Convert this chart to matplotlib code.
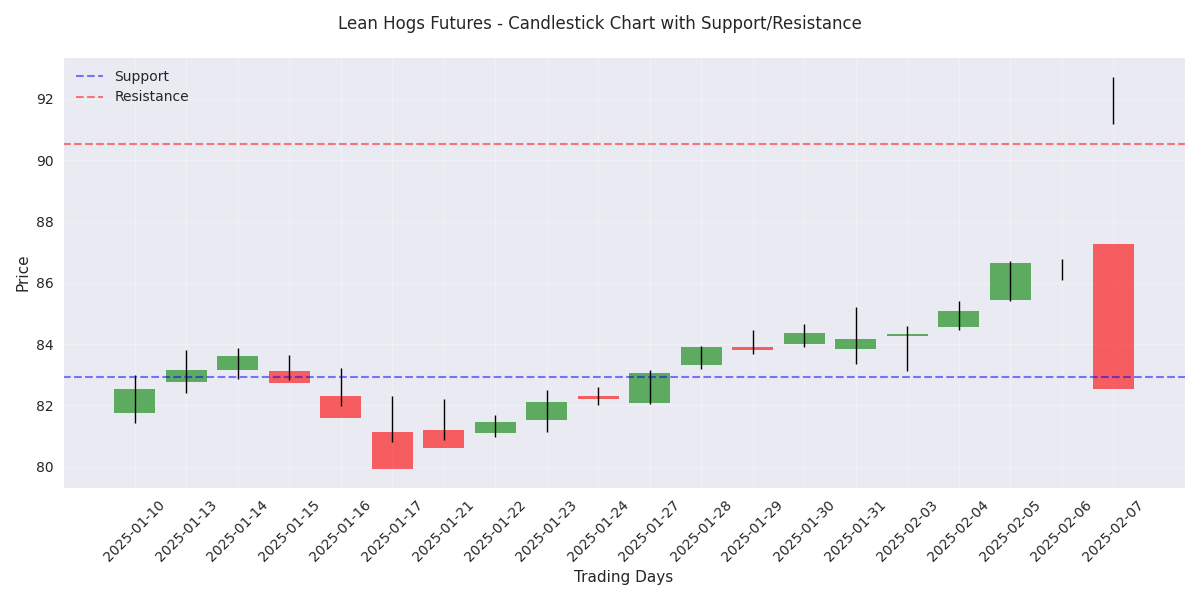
import matplotlib
matplotlib.use('Agg')
import matplotlib.pyplot as plt
import seaborn as sns
import numpy as np

# daily OHLC
dates = ['2025-01-10', '2025-01-13', '2025-01-14', '2025-01-15', '2025-01-16',
         '2025-01-17', '2025-01-21', '2025-01-22', '2025-01-23', '2025-01-24',
         '2025-01-27', '2025-01-28', '2025-01-29', '2025-01-30', '2025-01-31',
         '2025-02-03', '2025-02-04', '2025-02-05', '2025-02-06', '2025-02-07']
opens = [81.76, 82.77, 83.16, 83.13, 82.31, 81.14, 81.20, 81.11, 81.53, 82.31,
         82.08, 83.32, 83.91, 84.00, 83.84, 84.27, 84.56, 85.44, 86.40, 87.26]
closes = [82.54, 83.16, 83.61, 82.74, 81.60, 79.94, 80.62, 81.47, 82.12, 82.21,
          83.06, 83.91, 83.81, 84.36, 84.17, 84.33, 85.08, 86.64, 86.40, 82.54]
highs = [83.00, 83.81, 83.88, 83.65, 83.22, 82.31, 82.21, 81.69, 82.51, 82.60,
         83.16, 83.94, 84.46, 84.66, 85.21, 84.59, 85.41, 86.71, 86.77, 92.73]
lows = [81.43, 82.39, 82.87, 82.83, 81.99, 80.82, 80.88, 80.98, 81.14, 82.02,
        82.05, 83.19, 83.68, 83.91, 83.35, 83.13, 84.46, 85.41, 86.09, 91.19]
support = 82.93
resistance = 90.53

sns.set_style('darkgrid')
plt.rcParams['font.family'] = ['DejaVu Sans']
fig, ax = plt.subplots(figsize=(12, 6), dpi=100)

x = np.arange(len(dates))
o = np.array(opens)
c = np.array(closes)
colors = ['green' if cc >= oo else 'red' for oo, cc in zip(o, c)]

ax.bar(x, c - o, bottom=o, width=0.8, color=colors, alpha=0.6, linewidth=0)
ax.vlines(x, lows, highs, color='black', linewidth=1)

ax.axhline(support, color='blue', linestyle='--', linewidth=1.5, alpha=0.5, label='Support')
ax.axhline(resistance, color='red', linestyle='--', linewidth=1.5, alpha=0.5, label='Resistance')

ax.set_xticks(x)
ax.set_xticklabels(dates, rotation=45)
ax.set_xlabel('Trading Days', fontsize=11)
ax.set_ylabel('Price', fontsize=11)
ax.tick_params(labelsize=10)
ax.grid(True, alpha=0.3)
ax.legend(loc='upper left', fontsize=10, frameon=False)
fig.suptitle('Lean Hogs Futures - Candlestick Chart with Support/Resistance',
             fontsize=12, y=0.975)

plt.tight_layout()
plt.subplots_adjust(top=0.905)
plt.savefig('out.png')
